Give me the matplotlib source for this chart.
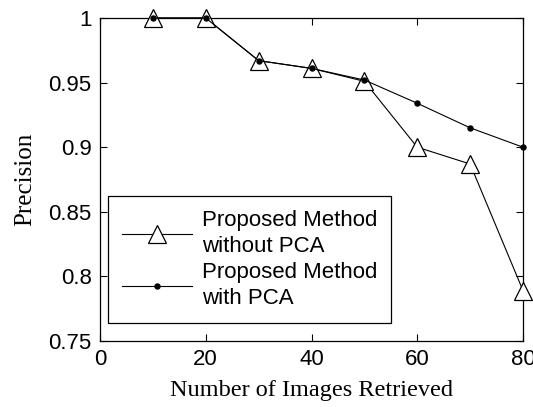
import matplotlib
matplotlib.use('Agg')
import matplotlib.pyplot as plt

# data
images = [10, 20, 30, 40, 50, 60, 70, 80]
prec_no_pca = [1.0, 1.0, 0.967, 0.961, 0.951, 0.900, 0.887, 0.789]
prec_pca = [1.0, 1.0, 0.967, 0.961, 0.952, 0.934, 0.915, 0.900]

labels = ['Proposed Method\nwithout PCA', 'Proposed Method\nwith PCA']
xticks = [0, 20, 40, 60, 80]
yticks = [0.75, 0.8, 0.85, 0.9, 0.95, 1.0]
ytick_labels = ['0.75', '0.8', '0.85', '0.9', '0.95', '1']

fig = plt.figure(figsize=(5.33, 4.07), dpi=100)
ax = fig.add_axes([100 / 533, 1 - 341 / 407, 423 / 533, 323 / 407])

ax.plot(images, prec_no_pca, color='black', lw=0.8, marker='^', markersize=12.5,
        markerfacecolor='white', markeredgecolor='black', markeredgewidth=0.9,
        label=labels[0], clip_on=False, zorder=3)
ax.plot(images, prec_pca, color='black', lw=0.8, marker='o', markersize=3.6,
        markerfacecolor='black', markeredgecolor='black',
        label=labels[1], clip_on=False, zorder=4)

ax.set_xlim(0, 80)
ax.set_ylim(0.75, 1.0)
ax.set_xticks(xticks)
ax.set_yticks(yticks)
ax.set_yticklabels(ytick_labels)
ax.tick_params(direction='in', top=True, right=True, length=5, width=0.8,
               labelsize=16, pad=6)
for lab in ax.get_xticklabels() + ax.get_yticklabels():
    lab.set_family('Liberation Sans')
for s in ax.spines.values():
    s.set_linewidth(0.9)

ax.set_xlabel('Number of Images Retrieved', family='Liberation Serif',
              fontsize=17.5, labelpad=7)
ax.set_ylabel('Precision', family='Liberation Serif', fontsize=18, labelpad=9)

leg = ax.legend(loc='lower left', bbox_to_anchor=(8 / 423, 18 / 323),
                prop={'family': 'Liberation Sans', 'size': 16},
                fancybox=False, framealpha=1, edgecolor='black',
                handlelength=3.15, borderpad=0.62, labelspacing=0.25,
                handletextpad=0.45, borderaxespad=0)
for t in leg.get_texts():
    t.set_linespacing(1.3)
leg.get_frame().set_linewidth(0.9)

fig.savefig('out.png', dpi=100)
